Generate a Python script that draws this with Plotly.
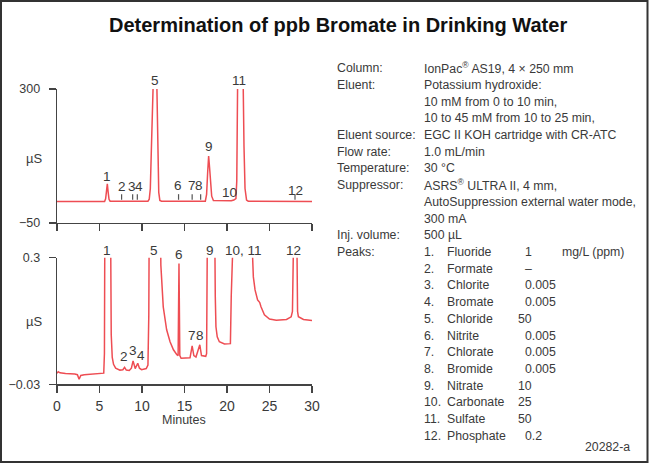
import plotly.graph_objects as go

W, H = 650, 465
SANS = "Liberation Sans, Arial, sans-serif"
RED = "#ee4d53"
GRAY = "#3a3a3a"

# ---------------- data ----------------
top_time = [0, 5.6, 5.72, 5.82, 5.92, 6.02, 6.12, 6.25, 10.7, 10.85, 10.98, 11.1, 11.2, 11.45,
            11.73, 11.85, 11.97, 12.1, 12.3, 17.45, 17.6, 17.72, 17.84, 17.95, 18.05, 18.2, 18.4,
            20.5, 20.8, 20.95, 21.05, 21.15, 21.25, 21.55, 21.9, 22.0, 22.12, 22.3, 22.5, 30]
top_signal = [6, 6, 13, 38, 52, 30, 12, 7, 7, 12, 40, 140, 330, 420,
              330, 120, 30, 9, 7, 7, 25, 80, 125, 95, 50, 20, 9,
              8, 10, 14, 14, 60, 320, 420, 320, 150, 40, 10, 7, 6]

bottom_time = [0, 0.15, 0.35, 1.0, 2.1, 2.4, 2.6, 2.8, 3.2, 4.5, 5.5, 5.58, 5.63, 6.0, 6.3, 6.38,
               6.5, 6.65, 6.9, 7.4, 7.75, 7.95, 8.15, 8.5, 8.75, 8.95, 9.2, 9.5, 9.7, 9.95, 10.5,
               10.7, 10.8, 10.85, 11.5, 12.15, 12.22, 12.5, 12.9, 13.3, 13.7, 14.1, 14.25, 14.35,
               14.45, 14.6, 15.65, 15.9, 16.1, 16.35, 16.8, 17.0, 17.5, 17.6, 17.7, 18.1, 18.55,
               18.62, 18.7, 18.85, 19.1, 19.7, 20.4, 20.5, 20.55, 21.5, 22.98, 23.1, 23.3, 23.6,
               23.75, 23.85, 24.0, 24.4, 25.0, 25.8, 27.0, 27.55, 27.7, 27.8, 28.0, 28.2, 28.3,
               28.4, 29.0, 30]
bottom_signal = [-0.001, 0.003, 0.0, -0.002, -0.003, -0.005, -0.017, -0.007, -0.005, -0.003, -0.001,
                 0.05, 0.4, 0.6, 0.4, 0.1, 0.04, 0.022, 0.012, 0.007, 0.008, 0.014, 0.007, 0.006,
                 0.012, 0.031, 0.011, 0.025, 0.012, 0.008, 0.011, 0.02, 0.15, 0.4, 0.8, 0.4, 0.28,
                 0.172, 0.112, 0.081, 0.06, 0.047, 0.045, 0.285, 0.045, 0.038, 0.039, 0.07, 0.045,
                 0.041, 0.073, 0.045, 0.043, 0.05, 0.4, 0.8, 0.4, 0.2, 0.12, 0.094, 0.081, 0.075,
                 0.076, 0.2, 0.4, 0.9, 0.32, 0.25, 0.216, 0.19, 0.186, 0.183, 0.172, 0.151, 0.14,
                 0.137, 0.139, 0.146, 0.16, 0.4, 0.6, 0.4, 0.16, 0.146, 0.139, 0.136]

# small peak markers on the upper trace
marker_times_top = [7.6, 8.9, 9.45, 14.3, 15.9, 16.9, 28.0]
marker_level_top = 18

top_label_text = ["1", "2", "3", "4", "5", "6", "7", "8", "9", "10", "11", "12"]
top_label_x = [5.85, 7.61, 8.79, 9.65, 11.53, 14.2, 15.92, 16.74, 17.88, 20.35, 21.45, 28.0]
top_label_y = [72.7, 45.3, 45.3, 45.3, 323, 47.9, 47.9, 47.9, 149.7, 29, 323, 33.6]

bottom_label_text = ["1", "2", "3", "4", "5", "6", "7", "8", "9", "10, 11", "12"]
bottom_label_x = [5.92, 7.85, 8.9, 9.85, 11.41, 14.35, 15.85, 16.86, 18.0, 21.9, 27.8]
bottom_label_y = [0.32, 0.042, 0.0576, 0.0438, 0.32, 0.309, 0.096, 0.0985, 0.32, 0.32, 0.32]

x_ticks = [0, 5, 10, 15, 20, 25, 30]
x_range = [0, 30]
top_range = [-50, 300]
bottom_range = [-0.03, 0.3]
top_y_ticks = [-50, 300]
top_y_text = ["\u221250", "300"]
bottom_y_ticks = [-0.03, 0.3]
bottom_y_text = ["\u22120.03", "0.3"]

cond_labels = ["Column:", "Eluent:", "", "", "Eluent source:", "Flow rate:", "Temperature:",
               "Suppressor:", "", "", "Inj. volume:", "Peaks:"]
cond_values = ["IonPac<sup>\u00ae</sup> AS19, 4 \u00d7 250 mm", "Potassium hydroxide:",
               "10 mM from 0 to 10 min,", "10 to 45 mM from 10 to 25 min,",
               "EGC II KOH cartridge with CR-ATC", "1.0 mL/min", "30 \u00b0C",
               "ASRS<sup>\u00ae</sup> ULTRA II, 4 mm,", "AutoSuppression external water mode,",
               "300 mA", "500 \u00b5L", ""]

peak_numbers = ["1.", "2.", "3.", "4.", "5.", "6.", "7.", "8.", "9.", "10.", "11.", "12."]
peak_names = ["Fluoride", "Formate", "Chlorite", "Bromate", "Chloride", "Nitrite", "Chlorate",
              "Bromide", "Nitrate", "Carbonate", "Sulfate", "Phosphate"]
peak_conc = ["1", "\u2013", "0.005", "0.005", "50", "0.005", "0.005", "0.005", "10", "25", "50", "0.2"]
conc_unit = "mg/L (ppm)"

title_text = "Determination of ppb Bromate in Drinking Water"
figure_id = "20282-a"


# ---------------- layout helpers ----------------
def fx(px):
    return px / W


def fy(py):
    return 1 - py / H


def to_domain(v, rng):
    # data value -> fraction of the axis domain (allows labels above the clipped range)
    return (v - rng[0]) / (rng[1] - rng[0])


fig = go.Figure()

fig.add_trace(go.Scatter(x=top_time, y=top_signal, mode="lines", xaxis="x", yaxis="y",
                         line=dict(color=RED, width=1.5), hoverinfo="skip", showlegend=False))
fig.add_trace(go.Scatter(x=marker_times_top, y=[marker_level_top] * len(marker_times_top),
                         mode="markers", xaxis="x", yaxis="y",
                         marker=dict(symbol="line-ns", size=4, line=dict(color="#555", width=1.2)),
                         hoverinfo="skip", showlegend=False))
fig.add_trace(go.Scatter(x=bottom_time, y=bottom_signal, mode="lines", xaxis="x2", yaxis="y2",
                         line=dict(color=RED, width=1.5), hoverinfo="skip", showlegend=False))

axis_common = dict(showline=True, linecolor="#444", linewidth=1.3, ticks="outside", ticklen=7,
                   tickwidth=1.3, tickcolor="#444", showgrid=False, zeroline=False, automargin=False,
                   tickfont=dict(family=SANS, size=12.5, color=GRAY), fixedrange=True)

x_dom = [fx(57), fx(312)]
fig.update_layout(
    width=W, height=H, margin=dict(l=0, r=0, t=0, b=0, pad=0, autoexpand=False),
    paper_bgcolor="white", plot_bgcolor="white", showlegend=False,
    xaxis=dict(domain=x_dom, range=x_range, tickvals=x_ticks, showticklabels=False,
               anchor="y", **axis_common),
    yaxis=dict(domain=[fy(223), fy(89)], range=top_range, tickvals=top_y_ticks,
               ticktext=top_y_text, anchor="x", ticklabelstandoff=6, **axis_common),
    xaxis2=dict(domain=x_dom, range=x_range, tickvals=x_ticks, anchor="y2",
                ticklabelstandoff=2, **{**axis_common, "tickfont": dict(family=SANS, size=14, color=GRAY)}),
    yaxis2=dict(domain=[fy(384.3), fy(257.7)], range=bottom_range, tickvals=bottom_y_ticks,
                ticktext=bottom_y_text, anchor="x2", ticklabelstandoff=6, **axis_common),
)

ann = []
lab_font = dict(family=SANS, size=13.5, color=GRAY)
for t, x, y in zip(top_label_text, top_label_x, top_label_y):
    ann.append(dict(text=t, x=x, y=to_domain(y, top_range), xref="x", yref="y domain",
                    showarrow=False, font=lab_font, xanchor="center", yanchor="middle"))
for t, x, y in zip(bottom_label_text, bottom_label_x, bottom_label_y):
    ann.append(dict(text=t, x=x, y=to_domain(y, bottom_range), xref="x2", yref="y2 domain",
                    showarrow=False, font=lab_font, xanchor="center", yanchor="middle"))

# axis units
for py in (158, 321.7):
    ann.append(dict(text="\u00b5S", x=fx(34), y=fy(py), xref="paper", yref="paper", showarrow=False,
                    font=dict(family=SANS, size=13, color=GRAY), xanchor="center", yanchor="middle"))
ann.append(dict(text="Minutes", x=fx(184), y=fy(419.5), xref="paper", yref="paper", showarrow=False,
                font=dict(family=SANS, size=12.5, color=GRAY), xanchor="center", yanchor="middle"))

# title
ann.append(dict(text="<b>" + title_text + "</b>", x=fx(337.5), y=fy(25), xref="paper", yref="paper",
                showarrow=False, font=dict(family=SANS, size=20, color="#111"),
                xanchor="center", yanchor="middle"))

# conditions text block
txt_font = dict(family=SANS, size=12.3, color=GRAY)
row0, step = 68.3, 16.7
for i, (lab, val) in enumerate(zip(cond_labels, cond_values)):
    py = row0 + step * i
    if lab:
        ann.append(dict(text=lab, x=fx(335), y=fy(py), xref="paper", yref="paper", showarrow=False,
                        font=txt_font, xanchor="left", yanchor="middle"))
    if val:
        ann.append(dict(text=val, x=fx(421.7), y=fy(py), xref="paper", yref="paper", showarrow=False,
                        font=txt_font, xanchor="left", yanchor="middle"))

base_row = len(cond_labels) - 1
for k, (num, name, conc) in enumerate(zip(peak_numbers, peak_names, peak_conc)):
    py = row0 + step * (base_row + k)
    ann.append(dict(text=num, x=fx(421.7), y=fy(py), xref="paper", yref="paper", showarrow=False,
                    font=txt_font, xanchor="left", yanchor="middle"))
    ann.append(dict(text=name, x=fx(445), y=fy(py), xref="paper", yref="paper", showarrow=False,
                    font=txt_font, xanchor="left", yanchor="middle"))
    int_len = len(conc.split(".")[0])
    ann.append(dict(text=conc, x=fx(530 - 6.8 * int_len), y=fy(py), xref="paper", yref="paper",
                    showarrow=False, font=txt_font, xanchor="left", yanchor="middle"))
    if k == 0:
        ann.append(dict(text=conc_unit, x=fx(560), y=fy(py), xref="paper", yref="paper",
                        showarrow=False, font=txt_font, xanchor="left", yanchor="middle"))

ann.append(dict(text=figure_id, x=fx(632), y=fy(446.7), xref="paper", yref="paper", showarrow=False,
                font=dict(family=SANS, size=12.3, color=GRAY), xanchor="right", yanchor="middle"))

fig.update_layout(annotations=ann)

# outer frame
fig.add_shape(type="rect", xref="paper", yref="paper", x0=fx(1), x1=fx(647.5), y0=fy(462), y1=fy(1),
              line=dict(color="#333", width=2), fillcolor="rgba(0,0,0,0)", layer="above")

fig.write_html("out.html", config={"displayModeBar": False, "staticPlot": True},
               post_script="document.body.style.margin='0px';document.body.style.overflow='hidden';")
